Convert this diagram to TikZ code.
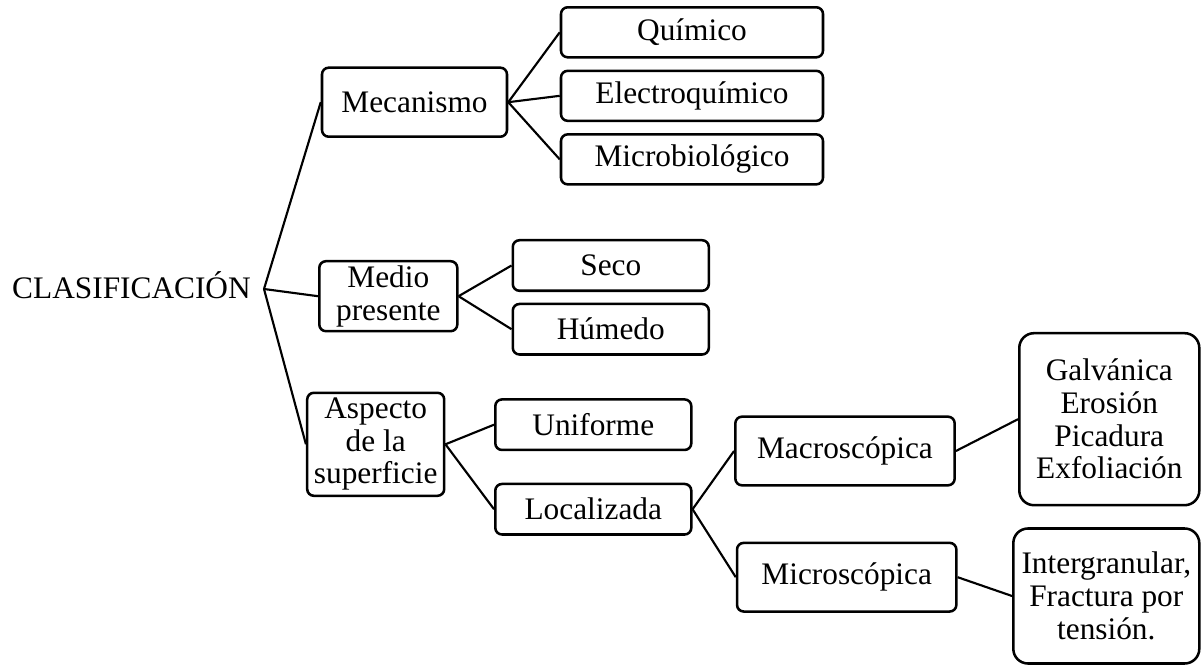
\documentclass[tikz,border=0pt]{standalone}
\usepackage{fontspec}
\setmainfont{Liberation Serif}
\usepackage{tikz}
\usetikzlibrary{positioning}
\tikzset{
  cat/.style={rectangle,draw,rounded corners=5pt,align=center,line width=1.9pt,
    inner sep=2pt,font=\fontsize{23.5}{24.5}\selectfont},
  leaf/.style={cat,minimum width=196.5pt,minimum height=37.5pt},
  pair/.style={cat,minimum width=147pt,minimum height=37.9pt},
  kind/.style={cat,minimum width=164.5pt,minimum height=51.5pt},
  listbox/.style={cat,rounded corners=11pt},
  link/.style={line width=1.6pt},
}

\begin{document}
\begin{tikzpicture}[x=0.75pt,y=-0.75pt]
\useasboundingbox (0,0) rectangle (1204,666);
\node[anchor=east,inner xsep=9.75pt,inner ysep=0pt,text height=14pt,text depth=0pt,
  font=\fontsize{23.5}{24.5}\selectfont] (clas) at (264,289) {CLASIFICACIÓN};

% mecanismo
\node[cat,minimum width=138.75pt,minimum height=51.75pt] (meca) at (414.5,102.2) {Mecanismo};
\node[leaf] (quim) at (692,32.3) {Químico};
\node[leaf,below=8.25pt of quim] (elec) {Electroquímico};
\node[leaf,below=8.25pt of elec] (micb) {Microbiológico};

% medio
\node[cat,minimum width=103.5pt,minimum height=52.5pt] (medio) at (388.3,296.2) {Medio\\presente};
\node[pair] (seco) at (610.8,265.5) {Seco};
\node[pair,below=8pt of seco] (hume) {Húmedo};

% aspecto
\node[cat,minimum width=102.75pt,minimum height=77.25pt] (aspe) at (375.7,444.3) {Aspecto\\de la\\superficie};
\node[pair] (unif) at (593.3,424.7) {Uniforme};
\node[pair,below=23.6pt of unif] (loca) {Localizada};
\node[kind] (macro) at (845,451) {Macroscópica};
\node[kind] (micro) at (846.7,577.2) {Microscópica};
\node[listbox,minimum width=135pt,minimum height=129pt] (galv) at (1109.3,419.2) {Galvánica\\Erosión\\Picadura\\Exfoliación};
\node[listbox,minimum width=139.5pt,minimum height=101.25pt] (inter) at (1106.3,596) {Intergranular,\\Fractura por\\tensión.};

\draw[link] (clas.east) -- (meca.west);
\draw[link] (clas.east) -- (medio.west);
\draw[link] (clas.east) -- (aspe.west);
\draw[link] (meca.east) -- (quim.west);
\draw[link] (meca.east) -- (elec.west);
\draw[link] (meca.east) -- (micb.west);
\draw[link] (medio.east) -- (seco.west);
\draw[link] (medio.east) -- (hume.west);
\draw[link] (aspe.east) -- (unif.west);
\draw[link] (aspe.east) -- (loca.west);
\draw[link] (loca.east) -- (macro.west);
\draw[link] (loca.east) -- (micro.west);
\draw[link] (macro.east) -- (galv.west);
\draw[link] (micro.east) -- (inter.west);
\end{tikzpicture}
\end{document}
